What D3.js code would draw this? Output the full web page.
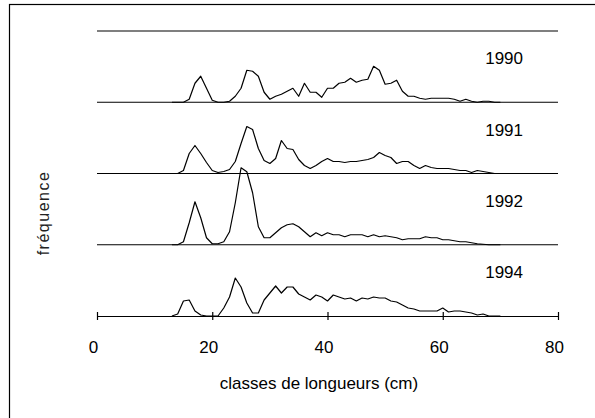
<!DOCTYPE html>
<html>
<head>
<meta charset="utf-8">
<script src="https://cdn.jsdelivr.net/npm/d3@7"></script>
<style>
  body { margin: 0; background: #fff; }
  svg { display: block; font-family: "Liberation Sans", Arial, sans-serif; }
</style>
</head>
<body>
<svg id="chart" width="595" height="418"></svg>
<script>
// length classes (cm)
var classes = [13,14,15,16,17,18,19,20,21,22,23,24,25,26,27,28,29,30,31,32,
  33,34,35,36,37,38,39,40,41,42,43,44,45,46,47,48,49,50,51,52,
  53,54,55,56,57,58,59,60,61,62,63,64,65,66,67,68,69,70];

// frequencies (arbitrary units)
var f1990 = [0,0,0,3,19,26,14,2,0,0, 1,6,14,32,31,26,10,3,6,8,
  11,14,6,19,10,10,5,14,14,19, 20,24,20,22,23,36,32,18,19,22,
  11,6,6,4,3,4,4,4,4,3, 1,3,1,0,1,1,0,0];
var f1991 = [0,0,3,20,28,20,11,3,1,2, 4,12,30,47,44,25,13,10,15,33,
  25,24,14,8,5,8,12,15,12,12, 11,12,12,13,14,16,21,18,16,10,
  12,12,8,5,8,6,5,5,5,4, 3,3,1,3,2,1,0,0];
var f1992 = [0,0,3,22,43,27,7,1,1,3, 13,42,77,73,52,18,7,7,12,17,
  20,21,18,13,8,12,9,12,10,10, 8,10,10,10,8,10,8,9,8,7,
  5,6,6,6,8,7,7,5,5,4, 3,3,2,1,0.5,0,0,0];
var f1994 = [0,2,15,16,5,1,0,0,0,8, 19,38,29,13,3,3,16,23,30,23,
  29,29,22,19,16,21,19,15,21,19, 17,18,15,18,17,19,18,18,15,14,
  11,8,7,5,5,5,5,8,4,5, 5,4,3,1,2,0,0,0];

var years = ["1994", "1992", "1991", "1990"];
var seriesList = [f1994, f1992, f1991, f1990];
var xTicks = [0, 20, 40, 60, 80];

var svg = d3.select("#chart");

// frame
svg.append("rect")
    .attr("x", 9.5).attr("y", 4.5)
    .attr("width", 620).attr("height", 440)
    .attr("fill", "none").attr("stroke", "#000").attr("stroke-width", 1.2);

var x = d3.scaleLinear().domain([0, 80]).range([97, 558]);
// baseline of each panel (4 years + empty top one)
var band = d3.scaleLinear().domain([0, 4]).range([316, 31]);
var y = d3.scaleLinear().domain([0, 80]).range([0, 80]);

// empty top baseline and the baselines of the upper panels
[1, 2, 3, 4].forEach(function(i) {
    svg.append("line")
        .attr("x1", x(0)).attr("x2", x(80))
        .attr("y1", band(i)).attr("y2", band(i))
        .attr("stroke", "#000").attr("stroke-width", 1.2);
});

// x axis (baseline of 1994)
var axis = svg.append("g")
    .attr("transform", "translate(0," + band(0) + ")")
    .call(d3.axisBottom(x).tickValues(xTicks).tickSizeOuter(0).tickSizeInner(4));
axis.select(".domain").attr("stroke-width", 1.2);
axis.selectAll(".tick line").attr("y1", -4).attr("y2", 4).attr("stroke-width", 1.2);
axis.selectAll(".tick text")
    .attr("y", 37).attr("dy", 0).attr("dx", -4)
    .attr("font-size", 17).attr("font-family", "Liberation Sans, Arial, sans-serif")
    .attr("fill", "#000");

// frequency polygons
seriesList.forEach(function(vals, i) {
    var base = band(i);
    var line = d3.line()
        .x(function(d, j) { return x(classes[j]); })
        .y(function(d) { return base - y(d); });
    svg.append("path")
        .datum(vals)
        .attr("d", line)
        .attr("fill", "none")
        .attr("stroke", "#000")
        .attr("stroke-width", 1.2)
        .attr("stroke-linejoin", "round");
    svg.append("text")
        .attr("x", 523).attr("y", base - 38)
        .attr("text-anchor", "end")
        .attr("font-size", 17)
        .text(years[i]);
});

// axis titles
svg.append("text")
    .attr("x", 319).attr("y", 389)
    .attr("text-anchor", "middle")
    .attr("font-size", 17)
    .text("classes de longueurs (cm)");

svg.append("text")
    .attr("transform", "translate(49,213) rotate(-90)")
    .attr("text-anchor", "middle")
    .attr("font-size", 16)
    .attr("letter-spacing", 1.5)
    .attr("fill", "#222")
    .text("fréquence");
</script>
</body>
</html>
